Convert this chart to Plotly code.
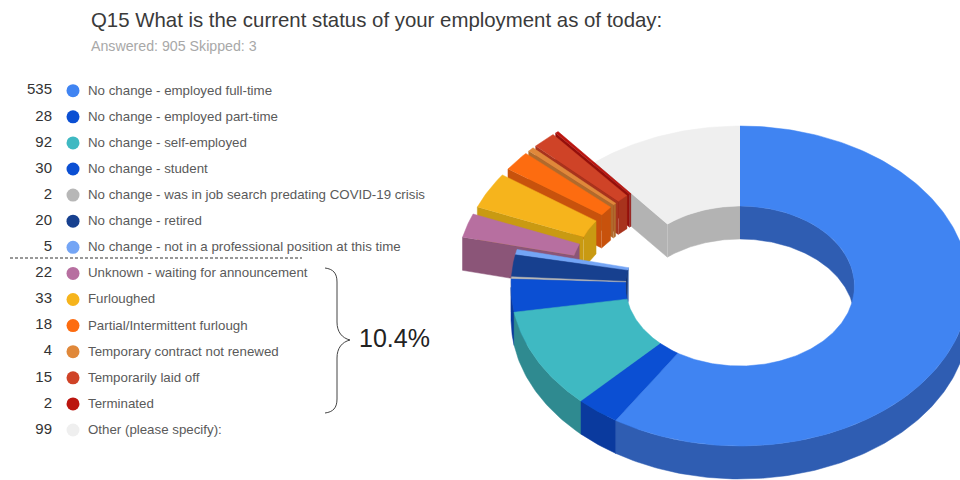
import numpy as np
import plotly.graph_objects as go

labels = ["No change - employed full-time", "No change - employed part-time", "No change - self-employed",
          "No change - student", "No change - was in job search predating COVID-19 crisis", "No change - retired",
          "No change - not in a professional position at this time", "Unknown - waiting for announcement",
          "Furloughed", "Partial/Intermittent furlough", "Temporary contract not renewed",
          "Temporarily laid off", "Terminated", "Other (please specify):"]
values = [535, 28, 92, 30, 2, 20, 5, 22, 33, 18, 4, 15, 2, 99]
colors = ["#4084f2", "#0b4fd3", "#3fb9c2", "#0b4fd3", "#b7b7b7", "#17408f", "#74a5f5", "#b76fa0",
          "#f6b41c", "#fd6c10", "#e0883a", "#cf4327", "#bb150f", "#efefef"]
wall_colors = ["#2f5db2", "#0a3a9e", "#2f8a90", "#0a3a9e", "#8f8f8f", "#102f6c", "#5a80c0", "#8b5578",
               "#c99a12", "#c8520c", "#b06a2c", "#a8331d", "#940f0b", "#b3b3b3"]
pulls = [0, 0, 0, 0, 0, 0, 0, 0.25, 0.25, 0.25, 0.25, 0.25, 0.25, 0]

title = "Q15 What is the current status of your employment as of today:"
subtitle = "Answered: 905 Skipped: 3"
bracket_label = "10.4%"

# Projection of the donut
CX, CY, RX, RY, HOLE, DEPTH = 740, 286, 229, 160, 0.5, 33

fig = go.Figure()


def pt(theta, frac, offset=(0.0, 0.0), drop=0.0):
    theta = np.asarray(theta, dtype=float)
    return (CX + offset[0] + RX * frac * np.sin(theta),
            CY + offset[1] + drop - RY * frac * np.cos(theta))


def add_poly(x, y, color, name):
    fig.add_trace(go.Scatter(x=list(x), y=list(y), mode="lines", fill="toself", fillcolor=color,
                             line=dict(color=color, width=0.5), name=name, showlegend=False,
                             hoverinfo="name"))


def wall(thetas, frac, offset, color, name):
    x0, y0 = pt(thetas, frac, offset)
    x1, y1 = pt(thetas[::-1], frac, offset, DEPTH)
    add_poly(np.r_[x0, x1], np.r_[y0, y1], color, name)


total = sum(values)
edges = np.r_[0, np.cumsum(values)] / total * 2 * np.pi

# Paint back to front: last slice first, the big slice last
for i in reversed(range(len(values))):
    a, b = edges[i], edges[i + 1]
    mid = (a + b) / 2
    off = (RX * pulls[i] * np.sin(mid), -RY * pulls[i] * np.cos(mid))
    ths = np.linspace(a, b, max(3, int(np.degrees(b - a)) + 2))
    # inner wall, visible on the far half of the hole
    far = ths[np.cos(ths) > 0]
    if len(far) > 1:
        wall(far, HOLE, off, wall_colors[i], labels[i])
    # outer wall, visible on the near half
    near = ths[np.cos(ths) < 0]
    if len(near) > 1:
        wall(near, 1.0, off, wall_colors[i], labels[i])
    # radial cut faces
    if np.sin(a) < 0:
        x0, y0 = pt([a, a], np.array([HOLE, 1.0]), off)
        x1, y1 = pt([a, a], np.array([1.0, HOLE]), off, DEPTH)
        add_poly(np.r_[x0, x1], np.r_[y0, y1], wall_colors[i], labels[i])
    if np.sin(b) > 0:
        x0, y0 = pt([b, b], np.array([HOLE, 1.0]), off)
        x1, y1 = pt([b, b], np.array([1.0, HOLE]), off, DEPTH)
        add_poly(np.r_[x0, x1], np.r_[y0, y1], wall_colors[i], labels[i])
    # top face
    xo, yo = pt(ths, 1.0, off)
    xi, yi = pt(ths[::-1], HOLE, off)
    add_poly(np.r_[xo, xi], np.r_[yo, yi], colors[i], labels[i])

# Legend rows
rows = [90.7 + 26.1 * k for k in range(len(labels))]
fig.add_trace(go.Scatter(x=[73] * len(rows), y=rows, mode="markers", showlegend=False, hoverinfo="skip",
                         marker=dict(size=13, color=colors, line=dict(width=0))))
fig.add_trace(go.Scatter(x=[88] * len(rows), y=[r + 0.6 for r in rows], mode="text", text=labels,
                         textposition="middle right",
                         textfont=dict(family="Liberation Sans", size=13.3, color="#5a5a5a"),
                         showlegend=False, hoverinfo="skip"))
fig.add_trace(go.Scatter(x=[52] * len(rows), y=rows, mode="text", text=[str(v) for v in values],
                         textposition="middle left",
                         textfont=dict(family="Liberation Sans", size=15, color="#333333"),
                         showlegend=False, hoverinfo="skip"))


def note(x, y, text, size, color):
    fig.add_annotation(x=x, y=y, xref="x", yref="y", text=text, showarrow=False, xanchor="left", yanchor="middle",
                       font=dict(family="Liberation Sans", size=size, color=color))


note(89, 20, title, 20.4, "#3a3a3a")
note(89, 46, subtitle, 14.2, "#a8a8a8")
note(357, 338, bracket_label, 25, "#222222")

fig.add_shape(type="line", x0=10, x1=302, y0=258, y1=258, xref="x", yref="y",
              line=dict(color="#333333", width=1, dash="3px,2px"))
fig.add_shape(type="path", xref="x", yref="y", line=dict(color="#444444", width=1),
              path="M 325 268 C 333 269, 337 273, 337 282 L 337 322 C 337 332, 342 338, 350 340 "
                   "C 342 342, 337 348, 337 358 L 337 399 C 337 408, 333 412, 325 413")

fig.update_layout(width=960, height=480, margin=dict(l=0, r=0, t=0, b=0), autosize=False,
                  paper_bgcolor="white", plot_bgcolor="white", showlegend=False,
                  xaxis=dict(range=[0, 960], visible=False, fixedrange=True),
                  yaxis=dict(range=[480, 0], visible=False, fixedrange=True))
fig.write_html("out.html", config={"displayModeBar": False},
               post_script="document.body.style.margin='0';document.body.style.overflow='hidden';")
